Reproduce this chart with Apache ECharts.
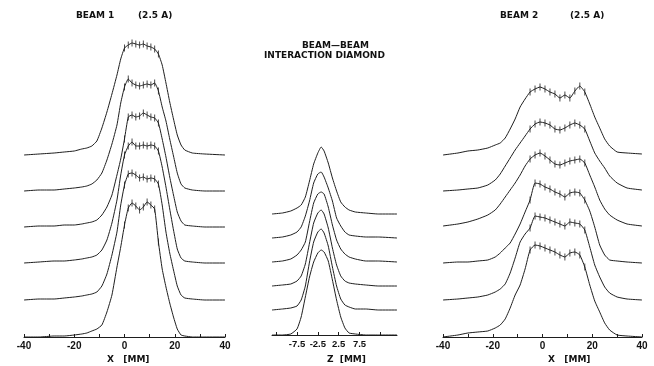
<!DOCTYPE html>
<html>
<head>
<meta charset="utf-8">
<script src="https://cdn.jsdelivr.net/npm/echarts@6/dist/echarts.min.js"></script>
<style>
  html, body { margin: 0; padding: 0; background: #fff; }
  #chart { width: 654px; height: 366px; }
</style>
</head>
<body>
<div id="chart"></div>
<script>
// beam 1, x in mm, six stacked scans (top to bottom)
const beam1X = [-40, -34, -28, -24, -20, -17, -15, -13, -11, -9, -7, -5, -3, -1.5, 0, 1.5, 3, 4.5, 6, 7.5, 9, 10.5, 12, 13.5, 15, 16.5, 18, 19.5, 21, 22.5, 24, 27, 32, 40]
const beam1A = [0, 1, 2, 3, 4, 6, 7, 9, 14, 27, 43, 61, 80, 96, 107, 110, 112, 111, 110, 111, 109, 108, 106, 101, 90, 72, 53, 36, 20, 10, 5, 2, 1, 0]
const beam1B = [0, 1, 1, 2, 3, 4, 5, 7, 11, 18, 31, 47, 66, 88, 104, 112, 108, 106, 105, 106, 107, 106, 108, 100, 84, 70, 52, 35, 18, 7, 3, 1, 0, 0]
const beam1C = [0, 1, 1, 2, 2, 3, 4, 5, 7, 12, 20, 32, 52, 68, 88, 110, 112, 110, 111, 114, 112, 110, 109, 104, 88, 70, 50, 32, 15, 6, 2, 1, 0, 0]
const beam1D = [0, 1, 2, 2, 3, 4, 5, 6, 8, 13, 23, 40, 63, 88, 108, 117, 121, 117, 117, 118, 117, 118, 117, 112, 96, 76, 54, 33, 14, 5, 2, 1, 0, 0]
const beam1E = [0, 1, 1, 2, 3, 4, 5, 6, 8, 14, 26, 45, 68, 95, 115, 126, 127, 125, 122, 123, 121, 122, 121, 116, 95, 68, 47, 30, 14, 5, 2, 1, 0, 0]
const beam1F = [0, 0, 1, 1, 2, 3, 4, 6, 8, 12, 25, 42, 70, 90, 112, 129, 134, 131, 127, 130, 135, 132, 128, 95, 68, 50, 34, 20, 8, 2, 1, 0, 0, 0]

// interaction diamond, z in mm
const diamondZ = [-13.5, -11, -9, -7.5, -6.5, -5.5, -4.5, -3.5, -2.5, -1.7, -1, 0, 1, 2, 3, 4, 5, 6.5, 9, 12, 16.5]
const diamondA = [0, 1, 3, 6, 9, 17, 33, 50, 61, 67, 63, 51, 36, 23, 12, 7, 4, 2, 1, 0, 0]
const diamondB = [0, 1, 3, 6, 11, 22, 37, 55, 64, 66, 61, 50, 37, 20, 12, 6, 3, 2, 1, 1, 0]
const diamondC = [0, 1, 3, 7, 12, 20, 40, 59, 68, 70, 68, 55, 37, 22, 13, 8, 5, 3, 1, 1, 0]
const diamondD = [0, 1, 2, 5, 10, 22, 43, 63, 73, 76, 72, 58, 38, 21, 10, 5, 3, 2, 1, 0, 0]
const diamondE = [0, 1, 2, 4, 10, 24, 48, 68, 78, 81, 77, 64, 43, 24, 11, 5, 3, 1, 1, 0, 0]
const diamondF = [0, 0, 1, 6, 18, 38, 58, 73, 82, 85, 83, 74, 55, 35, 18, 7, 2, 1, 0, 0, 0]

// beam 2, x in mm
const beam2X = [-40, -34, -30, -26, -22, -19, -17, -15, -13, -11, -9, -7, -5, -3, -1, 1, 3, 5, 7, 9, 11, 13, 15, 17, 19, 21, 23, 25, 27, 30, 34, 40]
const beam2A = [0, 2, 4, 5, 7, 10, 12, 17, 26, 36, 48, 56, 63, 66, 68, 66, 63, 61, 57, 60, 57, 64, 69, 63, 51, 38, 27, 16, 9, 3, 2, 1]
const beam2B = [0, 1, 2, 3, 6, 11, 17, 25, 33, 41, 48, 55, 62, 67, 69, 68, 66, 62, 61, 63, 66, 68, 66, 62, 50, 38, 30, 23, 15, 8, 3, 1]
const beam2C = [1, 3, 5, 8, 12, 17, 23, 30, 37, 44, 52, 61, 68, 72, 74, 71, 67, 63, 62, 64, 66, 67, 68, 64, 52, 40, 27, 18, 12, 7, 3, 1]
const beam2D = [0, 1, 1, 2, 3, 6, 10, 15, 20, 29, 39, 51, 63, 80, 79, 76, 74, 71, 69, 66, 70, 71, 70, 63, 52, 36, 18, 8, 3, 2, 1, 0]
const beam2E = [0, 1, 2, 3, 5, 8, 11, 16, 27, 42, 58, 66, 72, 84, 83, 82, 80, 78, 76, 74, 78, 77, 76, 70, 53, 35, 23, 13, 7, 3, 1, 0]
const beam2F = [0, 2, 4, 5, 6, 9, 12, 18, 29, 42, 52, 68, 87, 92, 91, 89, 87, 85, 82, 80, 84, 85, 82, 70, 52, 36, 25, 14, 7, 2, 1, 0]

// vertical shift of each scan, top to bottom
const beamOffsets = [182, 146, 110, 74, 37, 0]
const diamondOffsets = [121, 97, 73, 49, 25, 0]

const ink = '#1e1e1e'
const font = 'DejaVu Sans'

const chart = echarts.init(document.getElementById('chart'))

function curves(xs, rows, offsets, idx, barFrom, barTo) {
  const out = []
  rows.forEach((row, k) => {
    const pts = xs.map((x, i) => [x, row[i] + offsets[k]])
    out.push({
      type: 'line',
      xAxisIndex: idx,
      yAxisIndex: idx,
      data: pts,
      showSymbol: false,
      smooth: 0.15,
      lineStyle: { color: ink, width: 1 },
      silent: true,
    })
    if (barFrom != null) {
      out.push({
        type: 'scatter',
        xAxisIndex: idx,
        yAxisIndex: idx,
        data: pts.filter((p) => p[0] >= barFrom && p[0] <= barTo),
        symbol: 'rect',
        symbolSize: [1, 7],
        itemStyle: { color: ink },
        silent: true,
      })
    }
  })
  return out
}

function xAxis(idx, min, max, size) {
  return {
    gridIndex: idx,
    type: 'value',
    min,
    max,
    splitLine: { show: false },
    axisLine: { lineStyle: { color: ink, width: 1 } },
    axisTick: { inside: true, length: 3, lineStyle: { color: ink } },
    axisLabel: {
      color: '#111',
      fontFamily: 'Liberation Sans',
      fontWeight: 'bold',
      fontSize: size,
      margin: 4,
    },
  }
}

function label(text, left, top, size) {
  return {
    text,
    left,
    top,
    padding: 0,
    textStyle: { color: '#111', fontFamily: font, fontWeight: 'bold', fontSize: size || 9 },
  }
}

const beam1Axis = xAxis(0, -40, 40, 10)
beam1Axis.interval = 10
beam1Axis.axisLabel.formatter = (v) => (v % 20 === 0 ? String(v) : '')
const beam2Axis = xAxis(2, -40, 40, 10)
beam2Axis.interval = 10
beam2Axis.axisLabel.formatter = (v) => (v % 20 === 0 ? String(v) : '')
const diamondAxis = xAxis(1, -13.5, 16.5, 9.5)
diamondAxis.axisLabel.customValues = [-7.5, -2.5, 2.5, 7.5]
diamondAxis.axisTick.customValues = [-12.5, -7.5, -2.5, 2.5, 7.5, 12.5]

const option = {
  backgroundColor: '#fff',
  animation: false,
  title: [
    label('BEAM 1', 76, 11),
    label('(2.5 A)', 138, 11),
    label('BEAM 2', 500, 11),
    label('(2.5 A)', 570, 11),
    label('BEAM\u2014BEAM', 302, 41),
    label('INTERACTION DIAMOND', 264, 51),
    label('X   [MM]', 107, 355),
    label('Z  [MM]', 327, 355),
    label('X   [MM]', 548, 355),
  ],
  grid: [
    { left: 24, width: 201, top: 37, bottom: 29 },
    { left: 272, width: 125, top: 35, bottom: 31 },
    { left: 443, width: 199, top: 37, bottom: 29 },
  ],
  xAxis: [beam1Axis, diamondAxis, beam2Axis],
  yAxis: [0, 1, 2].map((i) => ({ gridIndex: i, type: 'value', min: 0, max: 300, show: false })),
  series: [
    ...curves(beam1X, [beam1A, beam1B, beam1C, beam1D, beam1E, beam1F], beamOffsets, 0, 0, 13.5),
    ...curves(diamondZ, [diamondA, diamondB, diamondC, diamondD, diamondE, diamondF], diamondOffsets, 1, null, null),
    ...curves(beam2X, [beam2A, beam2B, beam2C, beam2D, beam2E, beam2F], beamOffsets, 2, -5, 17),
  ],
}

chart.setOption(option)
</script>
</body>
</html>
